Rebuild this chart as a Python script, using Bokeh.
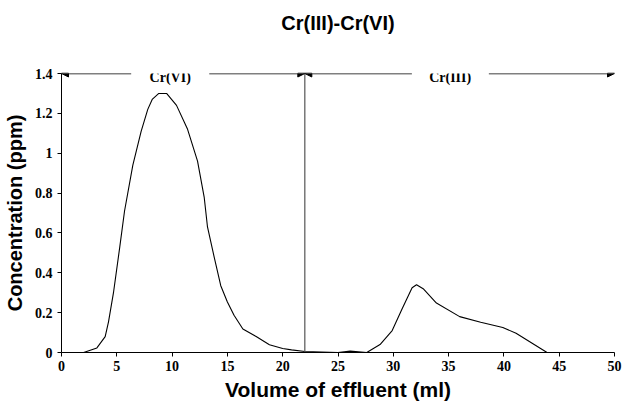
from bokeh.plotting import figure
from bokeh.models import Range1d, FixedTicker, Arrow, NormalHead, Label, Title
from bokeh.embed import file_html
from bokeh.resources import INLINE

# ---- data ----
volume = [2.0, 3.2, 3.95, 4.25, 4.7, 5.27, 5.7, 6.45, 7.2, 7.8, 8.2, 8.8, 9.5,
          10.4, 11.4, 12.3, 12.9, 13.2, 13.8, 14.4, 15.0, 15.6, 16.4, 17.6,
          18.8, 20.0, 20.8, 22.0, 25.0, 26.1, 27.6, 28.8, 29.9, 30.8, 31.7,
          32.1, 32.7, 33.9, 36.0, 37.9, 39.9, 41.1, 43.9]
conc = [0.0, 0.023, 0.08, 0.154, 0.30, 0.53, 0.71, 0.94, 1.11, 1.22, 1.27, 1.30,
        1.30, 1.24, 1.12, 0.96, 0.78, 0.63, 0.48, 0.335, 0.253, 0.187, 0.118,
        0.08, 0.039, 0.02, 0.013, 0.005, 0.0, 0.007, 0.0, 0.04, 0.11, 0.22,
        0.325, 0.34, 0.32, 0.248, 0.18, 0.152, 0.125, 0.097, 0.0]

x_ticks = [0, 5, 10, 15, 20, 25, 30, 35, 40, 45, 50]
y_ticks = [0, 0.2, 0.4, 0.6, 0.8, 1.0, 1.2, 1.4]
y_tick_labels = ["0", "0.2", "0.4", "0.6", "0.8", "1", "1.2", "1.4"]

split_volume = 22
region_labels = ["Cr(VI)", "Cr(III)"]
region_label_x = [9.83, 35.14]

title_text = "Cr(III)-Cr(VI)"
x_label = "Volume of effluent (ml)"
y_label = "Concentration (ppm)"

SERIF = "Liberation Serif"
SANS = "Liberation Sans"

X_MIN, X_MAX = 0, 50
Y_MIN, Y_MAX = 0, 1.4

p = figure(width=622, height=403, output_backend="svg", toolbar_location=None,
           x_range=Range1d(X_MIN, X_MAX), y_range=Range1d(Y_MIN, Y_MAX),
           min_border_left=56, min_border_right=8, min_border_top=0,
           min_border_bottom=50)

# spacer between title and plot area, then the title itself (outermost)
p.add_layout(Title(text=" ", text_font_size="20px", standoff=6), "above")
p.add_layout(Title(text=title_text, text_font=SANS, text_font_size="20px",
                   text_font_style="bold", text_color="black", align="center",
                   standoff=19), "above")

p.outline_line_color = None
p.grid.visible = False
p.background_fill_color = "white"
p.border_fill_color = "white"

for ax in (p.xaxis[0], p.yaxis[0]):
    ax.axis_line_color = "black"
    ax.major_tick_line_color = "black"
    ax.major_tick_out = 4
    ax.major_tick_in = 0
    ax.minor_tick_line_color = None
    ax.major_label_text_font = SERIF
    ax.major_label_text_font_style = "bold"
    ax.major_label_text_font_size = "14px"
    ax.major_label_text_color = "black"
    ax.axis_label_text_font = SANS
    ax.axis_label_text_font_style = "bold"
    ax.axis_label_text_color = "black"

p.xaxis.axis_label_text_font_size = "21px"
p.yaxis.axis_label_text_font_size = "20px"
p.xaxis.ticker = FixedTicker(ticks=x_ticks)
p.yaxis.ticker = FixedTicker(ticks=y_ticks)
p.yaxis.major_label_overrides = {t: l for t, l in zip(y_ticks, y_tick_labels)}
p.xaxis.axis_label = x_label
p.yaxis.axis_label = y_label
p.xaxis.major_label_standoff = 4
p.yaxis.major_label_standoff = 5
p.xaxis.axis_label_standoff = 4
p.yaxis.axis_label_standoff = 6

# curve
p.line(volume, conc, line_color="black", line_width=1.1)

# vertical separator
p.segment(x0=[split_volume], y0=[Y_MIN], x1=[split_volume], y1=[Y_MAX],
          line_color="#555555", line_width=1.2)

# region arrows (line pieces leave a gap for the region label)
segs = [
    (6.3, X_MIN),
    (13.36, split_volume),
    (31.68, split_volume),
    (38.64, X_MAX),
]
for xs, xe in segs:
    p.add_layout(Arrow(end=NormalHead(size=7, fill_color="black", line_color="black"),
                       x_start=xs, y_start=Y_MAX, x_end=xe, y_end=Y_MAX,
                       line_color="black", line_width=1.5))

for lab, lx in zip(region_labels, region_label_x):
    p.add_layout(Label(x=lx, y=Y_MAX, text=lab, text_align="center",
                       text_baseline="middle", y_offset=-4,
                       text_font=SERIF, text_font_style="bold",
                       text_font_size="14px", text_color="black"))

open("out.html", "w").write(file_html(p, INLINE))
